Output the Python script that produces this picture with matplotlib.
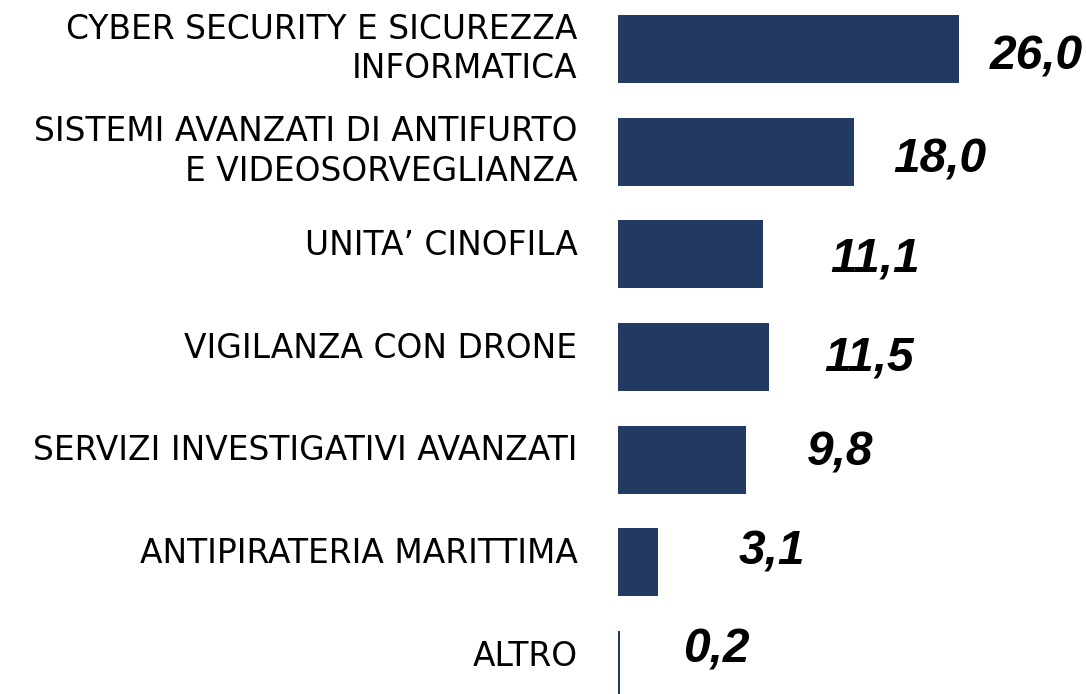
import matplotlib
matplotlib.use("Agg")
import matplotlib.pyplot as plt
import matplotlib.transforms as mtransforms

categories = [
    "CYBER SECURITY E SICUREZZA\nINFORMATICA",
    "SISTEMI AVANZATI DI ANTIFURTO\nE VIDEOSORVEGLIANZA",
    "UNITA\u2019 CINOFILA",
    "VIGILANZA CON DRONE",
    "SERVIZI INVESTIGATIVI AVANZATI",
    "ANTIPIRATERIA MARITTIMA",
    "ALTRO",
]
values = [26.0, 18.0, 11.1, 11.5, 9.8, 3.1, 0.2]
value_labels = ["26,0", "18,0", "11,1", "11,5", "9,8", "3,1", "0,2"]

# hand placed nudges for the value labels, in pixels:
# dx right of the bar end, dy below the bar centre
label_dx = [31, 39, 67, 56, 61, 80, 63]
label_dy = [8, 8, 5, 1, -7, -10, -15]

BAR_COLOR = "#223962"

fig = plt.figure(figsize=(10.86, 6.94), dpi=100)
ax = fig.add_axes([617.5 / 1086, 0, 1 - 617.5 / 1086, 1])

ypos = list(range(len(values)))
ax.barh(ypos, values, height=0.662, color=BAR_COLOR, edgecolor="none")

ax.set_xlim(0, 35.65)
ax.set_ylim(6.282, -0.477)
ax.axis("off")

for i, (cat, v, lab) in enumerate(zip(categories, values, value_labels)):
    # category text to the left of the bars
    shift = 0 if "\n" in cat else 9
    tr = mtransforms.offset_copy(ax.transData, fig=fig, x=-40, y=shift, units="dots")
    ax.text(0, i, cat, transform=tr, ha="right", va="center",
            fontsize=23.7, family="DejaVu Sans", color="black",
            linespacing=1.25, clip_on=False)
    ax.annotate(lab, xy=(v, i), xytext=(label_dx[i], -label_dy[i]),
                textcoords="offset pixels", ha="left", va="center",
                fontsize=34.5, family="Liberation Sans", fontweight="bold",
                fontstyle="italic", color="black", annotation_clip=False)

fig.savefig("out.png", dpi=100)
